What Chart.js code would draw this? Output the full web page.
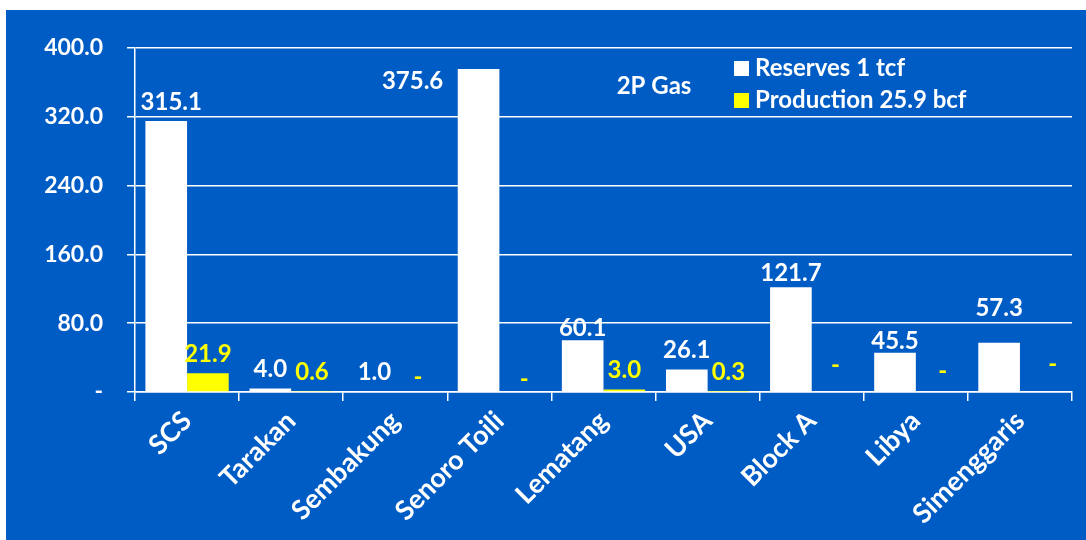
<!DOCTYPE html>
<html>
<head>
<meta charset="utf-8">
<title>2P Gas reserves and production</title>
<script src="https://cdn.jsdelivr.net/npm/chart.js@4.4.1/dist/chart.umd.min.js"></script>
<style>
  html, body { margin: 0; padding: 0; background: #ffffff; }
  #wrap {
    position: absolute;
    left: 6px;
    top: 10px;
    width: 1080px;
    height: 530px;
    background: #005cc5;
  }
</style>
</head>
<body>
<div id="wrap"><canvas id="chart"></canvas></div>
<script>
// Fields
const categories = ["SCS", "Tarakan", "Sembakung", "Senoro Toili", "Lematang", "USA", "Block A", "Libya", "Simenggaris"];

// 2P gas, bcf
const reserves = [315.1, 4.0, 1.0, 375.6, 60.1, 26.1, 121.7, 45.5, 57.3];
const production = [21.9, 0.6, 0, 0, 3.0, 0.3, 0, 0, 0];

const seriesNames = ["Reserves 1 tcf", "Production 25.9 bcf"];
const chartTitle = "2P Gas";

const FONT = "Lato, 'Open Sans', 'DejaVu Sans', sans-serif";
const WHITE = "#ffffff";
const YELLOW = "#ffff00";

// Hand-placed label nudges (px), as in the original slide
const labelNudge = {
  0: { 0: [5, 0], 3: [-66, 31], 4: [0, 7], 6: [0, 5], 7: [0, 7], 8: [0, -15] },
  1: { 2: [2, 4], 3: [4, 6], 6: [3, -8], 7: [6, -2], 8: [12, -9] },
};

function fmt(v) {
  return v === 0 ? "-" : v.toFixed(1);
}

const barLabels = {
  id: "barLabels",
  afterDatasetsDraw(chart) {
    const ctx = chart.ctx;
    ctx.save();
    ctx.font = "bold 24px " + FONT;
    ctx.textAlign = "center";
    ctx.textBaseline = "middle";
    chart.data.datasets.forEach((ds, di) => {
      const meta = chart.getDatasetMeta(di);
      ctx.fillStyle = di === 0 ? WHITE : YELLOW;
      meta.data.forEach((bar, i) => {
        const n = (labelNudge[di] && labelNudge[di][i]) || [0, 0];
        ctx.fillText(fmt(ds.data[i]), bar.x + n[0], bar.y - 19 + n[1]);
      });
    });
    ctx.restore();
  },
};

const legendBox = {
  id: "legendBox",
  afterDraw(chart) {
    const ctx = chart.ctx;
    ctx.save();
    ctx.font = "bold 24px " + FONT;
    ctx.textBaseline = "middle";
    ctx.textAlign = "center";
    ctx.fillStyle = WHITE;
    ctx.fillText(chartTitle, 648, 76);
    ctx.textAlign = "left";
    const colors = [WHITE, YELLOW];
    seriesNames.forEach((name, i) => {
      const y = 58 + i * 32;
      ctx.fillStyle = colors[i];
      ctx.fillRect(728, y - 7, 15, 15);
      ctx.fillStyle = WHITE;
      ctx.fillText(name, 749, y);
    });
    ctx.restore();
  },
};

new Chart(document.getElementById("chart"), {
  type: "bar",
  data: {
    labels: categories,
    datasets: [
      { label: seriesNames[0], data: reserves, backgroundColor: WHITE },
      { label: seriesNames[1], data: production, backgroundColor: YELLOW },
    ],
  },
  options: {
    responsive: true,
    maintainAspectRatio: false,
    animation: false,
    devicePixelRatio: 1,
    layout: { padding: { top: 38, right: 14, left: 0, bottom: 0 } },
    datasets: {
      bar: { categoryPercentage: 0.8, barPercentage: 1.0 },
    },
    plugins: {
      legend: { display: false },
      tooltip: { enabled: false },
    },
    scales: {
      x: {
        grid: {
          display: true,
          drawOnChartArea: false,
          drawTicks: true,
          tickLength: 9,
          offset: true,
          color: WHITE,
          lineWidth: 1.5,
        },
        border: { display: true, color: WHITE, width: 1.5 },
        ticks: {
          color: WHITE,
          font: { family: FONT, size: 27, weight: "bold" },
          minRotation: 45,
          maxRotation: 45,
          autoSkip: false,
          padding: 4,
        },
        afterFit(scale) {
          scale.height = 148;
        },
      },
      y: {
        min: 0,
        max: 400,
        grid: {
          color: WHITE,
          lineWidth: 1.5,
          tickLength: 8,
        },
        border: { display: true, color: WHITE, width: 1.5 },
        ticks: {
          stepSize: 80,
          color: WHITE,
          font: { family: FONT, size: 23, weight: "bold" },
          padding: 24,
          callback: (v) => fmt(v),
        },
        afterFit(scale) {
          scale.width = 129;
        },
      },
    },
  },
  plugins: [barLabels, legendBox],
});
</script>
</body>
</html>
